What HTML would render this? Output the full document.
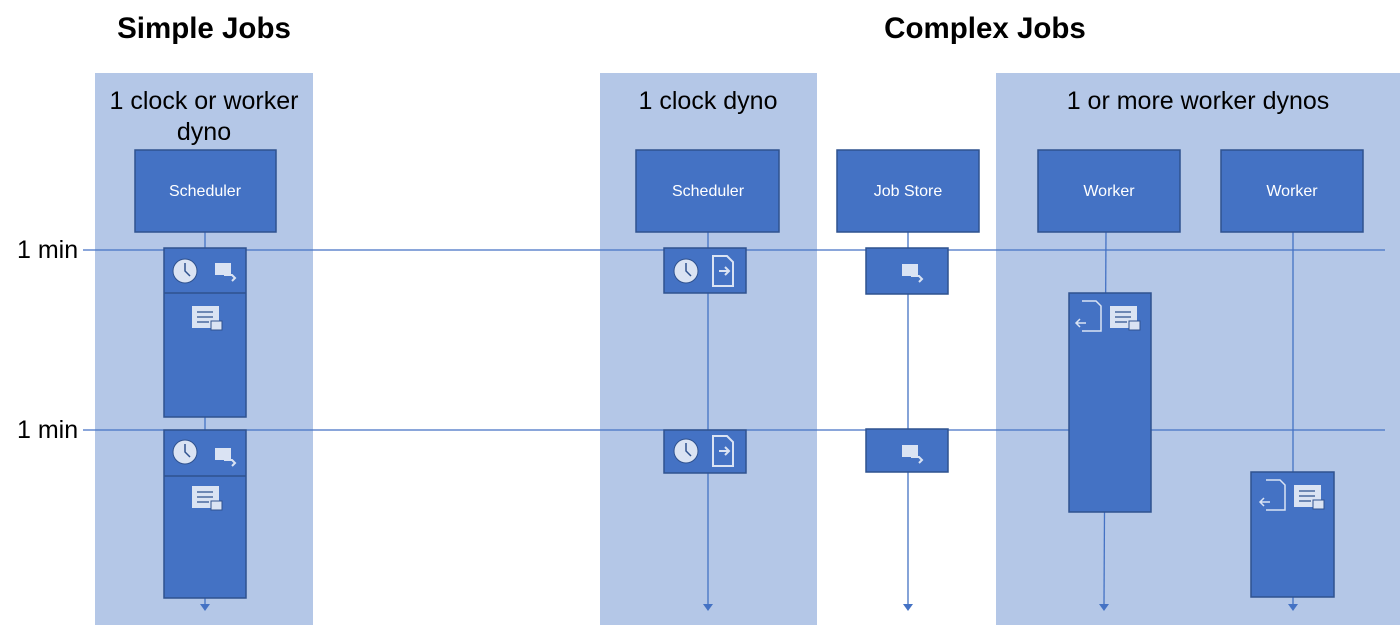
<!DOCTYPE html>
<html><head><meta charset="utf-8"><style>
html,body{margin:0;padding:0;background:#fff;width:1400px;height:625px;overflow:hidden;font-family:"Liberation Sans",sans-serif}
svg text{font-family:"Liberation Sans",sans-serif}
</style></head><body>
<svg width="1400" height="625" viewBox="0 0 1400 625" xmlns="http://www.w3.org/2000/svg">
<defs>
<g id="clock"><circle cx="0" cy="0" r="12" fill="#dae3f3" stroke="#2f528f" stroke-width="1"/><path d="M0,-8 V0 L5,5" stroke="#2f528f" stroke-width="1.5" fill="none"/></g>
<g id="cardmove"><rect x="-9" y="-8" width="16" height="12" fill="#dae3f3"/><path d="M0,4 h8 l3,3 l-3,3" stroke="#dae3f3" stroke-width="2" fill="none"/></g>
<g id="list"><rect x="-15" y="-12" width="27" height="22" fill="#dae3f3"/><path d="M-10,-6h16M-10,-1h16M-10,4h12" stroke="#2f528f" stroke-width="1.2"/><rect x="4" y="3" width="11" height="9" fill="#dae3f3" stroke="#2f528f"/></g>
<g id="docin"><path d="M-10,-15 h14 l6,6 v24 h-20 z" fill="none" stroke="#dae3f3" stroke-width="2"/><path d="M-4,0 h10 M2,-4 l4,4 l-4,4" stroke="#dae3f3" stroke-width="2" fill="none"/></g>
<g id="docout"><path d="M-8,-15 h14 l5,5 v25 h-19" fill="none" stroke="#dae3f3" stroke-width="1.5"/><path d="M-14,7 h10 M-10,3 l-4,4 l4,4" stroke="#dae3f3" stroke-width="1.5" fill="none"/></g>
</defs>

<g>
<rect x="95" y="73" width="218" height="552" fill="#b4c7e7"/>
<rect x="600" y="73" width="217" height="552" fill="#b4c7e7"/>
<rect x="996" y="73" width="404" height="552" fill="#b4c7e7"/>
</g>

<text x="204" y="38" font-size="29.5" font-weight="bold" text-anchor="middle">Simple Jobs</text>
<text x="985" y="38" font-size="29.5" font-weight="bold" text-anchor="middle">Complex Jobs</text>
<text x="204" y="109" font-size="25" text-anchor="middle">1 clock or worker</text>
<text x="204" y="140" font-size="25" text-anchor="middle">dyno</text>
<text x="708" y="109" font-size="25" text-anchor="middle">1 clock dyno</text>
<text x="1198" y="109" font-size="25" text-anchor="middle">1 or more worker dynos</text>

<g stroke="#4472c4" stroke-width="1.3">
<line x1="205" y1="232" x2="205" y2="604"/>
<line x1="708" y1="232" x2="708" y2="604"/>
<line x1="908" y1="232" x2="908" y2="604"/>
<line x1="1106" y1="232" x2="1104" y2="604"/>
<line x1="1293" y1="232" x2="1293" y2="604"/>
</g>
<g fill="#4472c4">
<path d="M200,604 h10 l-5,7z"/><path d="M703,604 h10 l-5,7z"/><path d="M903,604 h10 l-5,7z"/><path d="M1099,604 h10 l-5,7z"/><path d="M1288,604 h10 l-5,7z"/>
</g>

<g stroke="#4472c4" stroke-width="1.2">
<line x1="83" y1="250" x2="1385" y2="250"/>
<line x1="83" y1="430" x2="1385" y2="430"/>
</g>
<text x="17" y="258" font-size="25">1 min</text>
<text x="17" y="438" font-size="25">1 min</text>

<g fill="#4472c4" stroke="#2f528f" stroke-width="1.5">
<rect x="135" y="150" width="141" height="82"/>
<rect x="636" y="150" width="143" height="82"/>
<rect x="837" y="150" width="142" height="82"/>
<rect x="1038" y="150" width="142" height="82"/>
<rect x="1221" y="150" width="142" height="82"/>

<rect x="164" y="248" width="82" height="169"/>
<line x1="164" y1="293" x2="246" y2="293"/>
<rect x="164" y="430" width="82" height="168"/>
<line x1="164" y1="476" x2="246" y2="476"/>
<rect x="664" y="248" width="82" height="45"/>
<rect x="664" y="430" width="82" height="43"/>
<rect x="866" y="248" width="82" height="46"/>
<rect x="866" y="429" width="82" height="43"/>
<rect x="1069" y="293" width="82" height="219"/>
<rect x="1251" y="472" width="83" height="125"/>
</g>
<g fill="#fff" font-size="16" text-anchor="middle">
<text x="205" y="196">Scheduler</text>
<text x="708" y="196">Scheduler</text>
<text x="908" y="196">Job Store</text>
<text x="1109" y="196">Worker</text>
<text x="1292" y="196">Worker</text>
</g>

<g>
<use href="#clock" x="185" y="271"/><use href="#cardmove" x="224" y="271"/><use href="#list" x="207" y="318"/>
<use href="#clock" x="185" y="452"/><use href="#cardmove" x="224" y="456"/><use href="#list" x="207" y="498"/>
<use href="#clock" x="686" y="271"/><use href="#docin" x="723" y="271"/>
<use href="#clock" x="686" y="451"/><use href="#docin" x="723" y="451"/>
<use href="#cardmove" x="911" y="272"/><use href="#cardmove" x="911" y="453"/>
<use href="#docout" x="1090" y="316"/><use href="#list" x="1125" y="318"/>
<use href="#docout" x="1274" y="495"/><use href="#list" x="1309" y="497"/>
</g>
</svg>
</body></html>
